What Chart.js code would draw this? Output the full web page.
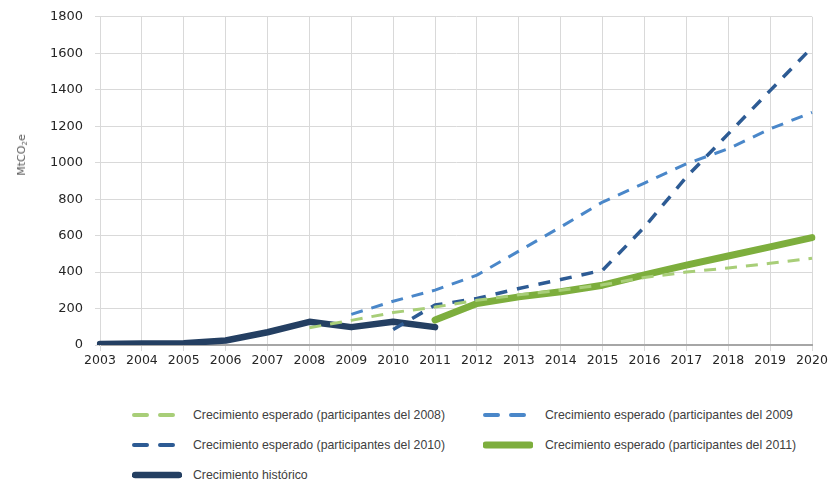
<!doctype html>
<html lang="es">
<head>
  <meta charset="utf-8">
  <title>Crecimiento MtCO2e</title>
  <script src="https://cdn.jsdelivr.net/npm/chart.js"></script>
  <style>
    body { margin: 0; background: #fff; }
    #wrap { position: relative; width: 830px; height: 481px; overflow: hidden; }
    #chartBox { position: absolute; left: 0; top: -3px; width: 830px; height: 373px; }
    #ytitle { position: absolute; left: 22px; top: 155px; transform: translate(-50%, -50%) rotate(-90deg);
      font-family: "DejaVu Sans", sans-serif; font-size: 11px; color: #595959; white-space: nowrap; }
    #ytitle sub { font-size: 7px; vertical-align: -2px; }
    .leyenda { position: absolute; left: 0; top: 0; font-family: "Liberation Sans", Arial, sans-serif;
      font-size: 13px; color: #404040; white-space: nowrap; }
    .item { position: absolute; }
    .item canvas { display: block; }
    .item span { position: absolute; top: -2px; transform-origin: 0 50%; }
  </style>
</head>
<body>
<div id="wrap">
  <div id="chartBox"><canvas id="myChart"></canvas></div>
  <div id="ytitle">MtCO<sub>2</sub>e</div>
  <div id="leyenda" class="leyenda"></div>
</div>

<script>
// Datos
const anios = ['2003','2004','2005','2006','2007','2008','2009','2010','2011','2012','2013','2014','2015','2016','2017','2018','2019','2020'];
const historico   = [5, 8, 10, 25, 70, 127, 98, 127, 98, null, null, null, null, null, null, null, null, null];
const part2008    = [null, null, null, null, null, 95, 135, 178, 208, 245, 275, 300, 330, 370, 400, 422, 448, 476];
const part2009    = [null, null, null, null, null, null, 168, 240, 301, 383, 515, 647, 784, 888, 994, 1076, 1185, 1276];
const part2010    = [null, null, null, null, null, null, null, 85, 219, 255, 310, 359, 410, 647, 921, 1158, 1395, 1632];
const part2011    = [null, null, null, null, null, null, null, null, 137, 228, 264, 292, 328, 385, 438, 488, 538, 589];
const ticksY = [0, 200, 400, 600, 800, 1000, 1200, 1400, 1600, 1800];

const series = [
  { label: 'Crecimiento esperado  (participantes del 2008)', data: part2008, color: '#A8CE78', width: 3, dash: [12, 9], lx: 132, ly: 415, text: 193, sample: 'dash' },
  { label: 'Crecimiento esperado  (participantes del 2009', data: part2009, color: '#4A87C9', width: 3, dash: [12, 9], lx: 483, ly: 415, text: 545, sample: 'dash' },
  { label: 'Crecimiento esperado  (participantes del 2010)', data: part2010, color: '#2D5B94', width: 3.5, dash: [12, 10], lx: 132, ly: 445, text: 193, sample: 'dash' },
  { label: 'Crecimiento esperado  (participantes del 2011)', data: part2011, color: '#7DAE3D', width: 7, dash: [], lx: 483, ly: 445, text: 545, sample: 'solid' },
  { label: 'Crecimiento histórico', data: historico, color: '#243F62', width: 6.5, dash: [], lx: 132, ly: 475, text: 193, sample: 'solid' }
];

const ctx = document.getElementById('myChart').getContext('2d');
const myChart = new Chart(ctx, {
  type: 'line',
  data: {
    labels: anios,
    datasets: series.map(s => ({
      label: s.label,
      data: s.data,
      borderColor: s.color,
      borderWidth: s.width,
      borderDash: s.dash,
      borderCapStyle: s.dash.length ? 'butt' : 'round',
      borderJoinStyle: 'round',
      pointRadius: 0,
      tension: 0,
      spanGaps: false
    }))
  },
  options: {
    responsive: true,
    maintainAspectRatio: false,
    animation: false,
    layout: { padding: { top: 8, right: 18, left: 0, bottom: 0 } },
    plugins: { legend: { display: false }, tooltip: { enabled: false } },
    scales: {
      x: {
        offset: false,
        grid: { color: '#D9D9D9', tickLength: 6 },
        border: { display: true, color: '#A6A6A6', width: 2 },
        ticks: { color: '#262626', font: { family: 'DejaVu Sans', size: 12.5 }, maxRotation: 0, autoSkip: false, padding: 2 },
        afterFit: (s) => { s.height = 25; }
      },
      y: {
        min: 0, max: 1800,
        afterBuildTicks: (s) => { s.ticks = ticksY.map(v => ({ value: v })); },
        grid: { color: '#D9D9D9', tickLength: 5 },
        border: { display: true, color: '#D9D9D9' },
        ticks: { color: '#262626', font: { family: 'DejaVu Sans', size: 13 }, padding: 12,
          callback: (v) => String(v) },
        afterFit: (s) => { s.width = 100; }
      }
    }
  }
});

// leyenda
const ley = document.getElementById('leyenda');
const spans = [];
series.forEach(s => {
  const it = document.createElement('div');
  it.className = 'item';
  it.style.left = s.lx + 'px';
  it.style.top = (s.ly - 6) + 'px';
  const c = document.createElement('canvas');
  c.width = 50; c.height = 12;
  const g = c.getContext('2d');
  g.strokeStyle = s.color;
  g.lineCap = 'round';
  if (s.sample === 'dash') {
    g.lineWidth = 4;
    g.beginPath(); g.moveTo(2, 6); g.lineTo(15, 6); g.moveTo(28, 6); g.lineTo(41, 6); g.stroke();
  } else {
    g.lineWidth = s.width;
    g.beginPath(); g.moveTo(3, 6); g.lineTo(47, 6); g.stroke();
  }
  it.appendChild(c);
  const t = document.createElement('span');
  t.textContent = s.label;
  t.style.left = (s.text - s.lx) + 'px';
  it.appendChild(t);
  ley.appendChild(it);
  spans.push(t);
});
// texto estrecho como en el original (~252px para la primera etiqueta)
const k = 252 / spans[0].getBoundingClientRect().width;
spans.forEach(t => { t.style.transform = 'scaleX(' + k + ')'; });
</script>
</body>
</html>
